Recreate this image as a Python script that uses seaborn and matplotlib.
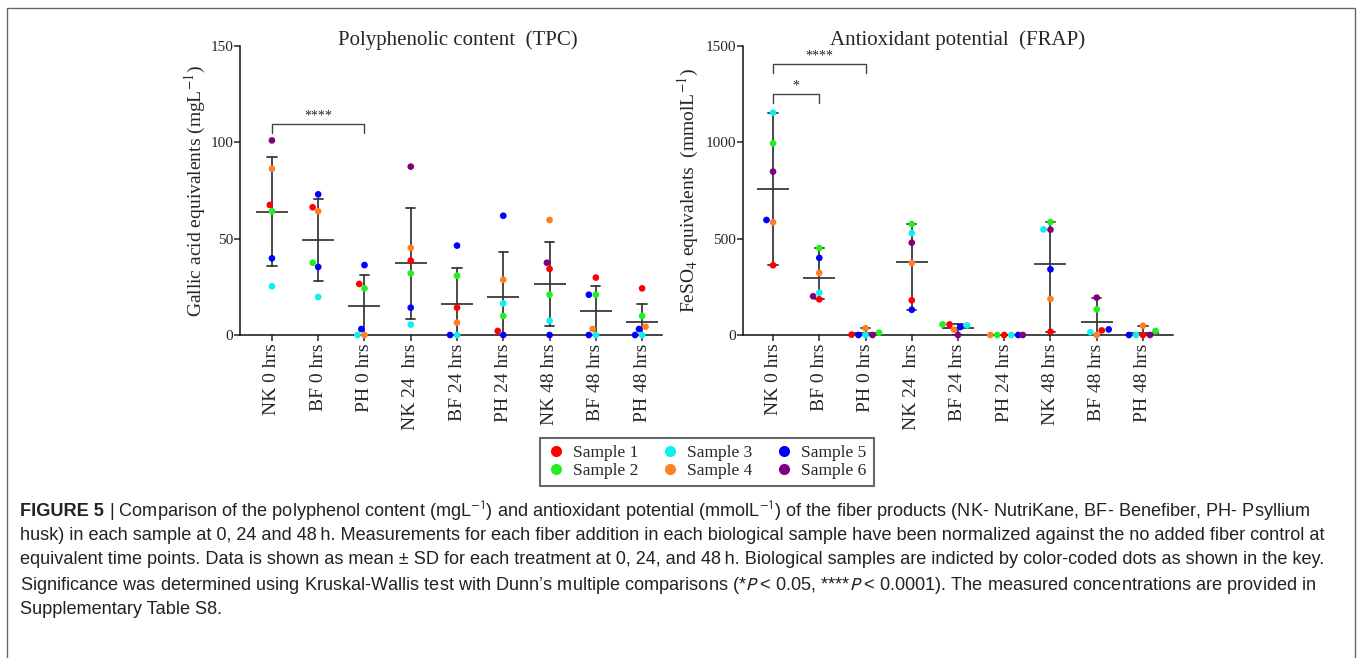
import matplotlib
matplotlib.use("Agg")
import numpy as np
import pandas as pd
import matplotlib.pyplot as plt
import seaborn as sns
from matplotlib.lines import Line2D
from matplotlib.patches import Rectangle

sns.set_style("ticks")
plt.rcParams["font.family"] = ["Liberation Serif", "DejaVu Serif"]

groups = ["NK 0 hrs", "BF 0 hrs", "PH 0 hrs", "NK 24  hrs", "BF 24 hrs",
          "PH 24 hrs", "NK 48 hrs", "BF 48 hrs", "PH 48 hrs"]
samples = ["Sample 1", "Sample 2", "Sample 3", "Sample 4", "Sample 5", "Sample 6"]
sample_colors = ["#ff0000", "#22ee22", "#11eeee", "#ff7f27", "#0000ff", "#800080"]

# polyphenolic content (mg/L), one list per sample across the nine groups
tpc_s1 = [67.5, 66.3, 26.5, 38.6, 14.2, 2.1, 34.3, 29.8, 24.2]
tpc_s2 = [64.2, 37.5, 24.2, 32.0, 30.8, 9.9, 20.9, 20.9, 9.9]
tpc_s3 = [25.3, 19.7, 0.0, 5.4, 0.0, 16.4, 7.4, 0.0, 0.0]
tpc_s4 = [86.3, 64.2, 0.0, 45.2, 6.4, 28.7, 59.7, 3.1, 4.3]
tpc_s5 = [39.8, 73.0, 36.3, 14.2, 46.4, 61.9, 0.0, 20.9, 3.1]
tpc_s6 = [101.0, 35.3, 3.1, 87.4, 0.0, 0.0, 37.5, 0.0, 0.0]

# antioxidant potential (mmol/L)
frap_s1 = [362, 185, 2, 180, 55, 0, 17, 24, 0]
frap_s2 = [995, 451, 12, 576, 55, 0, 586, 133, 21]
frap_s3 = [1154, 220, 0, 529, 50, 0, 548, 14, 0]
frap_s4 = [585, 322, 35, 374, 28, 0, 187, 0, 48]
frap_s5 = [597, 400, 0, 131, 41.5, 0, 341, 29, 0]
frap_s6 = [848, 201, 0, 479, 0, 0, 547, 194, 0]

# significance brackets: (from group, to group, height, label)
tpc_brackets = [(0, 2, 109.4, "****")]
frap_brackets = [(0, 2, 1405, "****"), (0, 1, 1251, "*")]

caption_head = "FIGURE 5"
caption_lines = [
    " | Comparison of the polyphenol content (mgL$^{-1}$) and antioxidant potential (mmolL$^{-1}$) of the fiber products (NK- NutriKane, BF- Benefiber, PH- Psyllium",
    "husk) in each sample at 0, 24 and 48\u2009h. Measurements for each fiber addition in each biological sample have been normalized against the no added fiber control at",
    "equivalent time points. Data is shown as mean \u00b1 SD for each treatment at 0, 24, and 48\u2009h. Biological samples are indicted by color-coded dots as shown in the key.",
    "Significance was determined using Kruskal-Wallis test with Dunn\u2019s multiple comparisons (*$\\mathit{P}$ < 0.05, ****$\\mathit{P}$ < 0.0001). The measured concentrations are provided in",
    "Supplementary Table S8.",
]


def long_table(cols):
    rows = []
    for s, vals in zip(samples, cols):
        for g, v in zip(groups, vals):
            rows.append((g, s, v))
    return pd.DataFrame(rows, columns=["group", "sample", "value"])


tpc = long_table([tpc_s1, tpc_s2, tpc_s3, tpc_s4, tpc_s5, tpc_s6])
tpc["key"] = tpc["sample"]
# in the TPC panel sample 6 of the BF / PH groups is drawn in blue
mask = (tpc["sample"] == "Sample 6") & ~tpc["group"].str.startswith("NK")
tpc.loc[mask, "key"] = "Sample 5"

frap = long_table([frap_s1, frap_s2, frap_s3, frap_s4, frap_s5, frap_s6])
frap["key"] = frap["sample"]

palette = dict(zip(samples, sample_colors))


def panel(ax, df, errorbar, ymax, yticks, title, ylabel, brackets, drop, xlim, label_x, title_x):
    sns.pointplot(data=df, x="group", y="value", order=groups, errorbar=errorbar,
                  capsize=0.2, color="#3a3a3a", marker="_", markersize=23,
                  markeredgewidth=1.3, linestyle="none",
                  err_kws={"linewidth": 1.3}, ax=ax)
    sns.swarmplot(data=df, x="group", y="value", order=groups, hue="key",
                  hue_order=samples, palette=palette, size=4.8, linewidth=0,
                  legend=False, clip_on=False, zorder=3, ax=ax, warn_thresh=1)
    for a, b, h, txt in brackets:
        ax.plot([a, a, b, b], [h - drop, h, h, h - drop], color="#444444", lw=1.0)
        ax.text((a + b) / 2, h + drop * 0.2, txt, ha="center", va="bottom", fontsize=10)
    ax.set_xlim(*xlim)
    ax.set_ylim(0, ymax)
    ax.set_yticks(yticks)
    ax.set_xticks(range(len(groups)))
    ax.set_xticklabels(groups, rotation=90, fontsize=14)
    ax.tick_params(axis="y", labelsize=11, length=4, width=1.1, pad=1)
    ax.tick_params(axis="x", length=4, width=1.1, pad=2)
    ax.set_xlabel("")
    ax.set_ylabel(ylabel, fontsize=14, math_fontfamily="stix")
    ax.yaxis.set_label_coords(label_x, 0.5)
    ax.set_title(title, fontsize=15, pad=0, x=title_x, y=1.002)
    for sp in ("left", "bottom"):
        ax.spines[sp].set_linewidth(1.1)
        ax.spines[sp].set_color("#111111")
    sns.despine(ax=ax)


fig = plt.figure(figsize=(13.57, 6.58), dpi=100)
W, H = 1357, 658
ax1 = fig.add_axes([240 / W, 1 - 335 / H, 422 / W, 289 / H])
ax2 = fig.add_axes([743 / W, 1 - 335 / H, 430 / W, 289 / H])

panel(ax1, tpc, "sd", 150, [0, 50, 100, 150], "Polyphenolic content  (TPC)",
      r"Gallic acid equivalents (mgL$^{-1}$)", tpc_brackets, 4.7,
      (-0.69, 8.43), -0.076, 0.515)
panel(ax2, frap, lambda v: (v.min(), v.max()), 1500, [0, 500, 1000, 1500],
      "Antioxidant potential  (FRAP)",
      r"FeSO$_4$ equivalents  (mmolL$^{-1}$)", frap_brackets, 47,
      (-0.65, 8.65), -0.097, 0.5)

handles = [Line2D([], [], marker="o", linestyle="none", markersize=8,
                  markerfacecolor=c, markeredgewidth=0, label=s)
           for s, c in zip(samples, sample_colors)]
leg = fig.legend(handles=handles, ncol=3, loc="center", bbox_to_anchor=(707 / W, 1 - 462 / H),
                 frameon=True, fancybox=False, edgecolor="#444444",
                 prop={"family": "Liberation Serif", "size": 12.5}, handlelength=1.0,
                 handletextpad=0.5, columnspacing=1.3, borderpad=0.4, labelspacing=0.12)
leg.get_frame().set_linewidth(1.5)

# caption
cap_font = ["Liberation Sans", "DejaVu Sans"]
cap_size = 13.1
line_y = [511, 536, 560, 585, 610]
head = fig.text(20 / W, 1 - line_y[0] / H, caption_head, fontsize=cap_size, fontweight="bold",
                family=cap_font, va="center", color="#222222")
fig.canvas.draw()
bb = head.get_window_extent(fig.canvas.get_renderer())
for i, line in enumerate(caption_lines):
    x0 = bb.x1 / W if i == 0 else 20 / W
    fig.text(x0, 1 - line_y[i] / H, line, fontsize=cap_size, family=cap_font,
             va="center", color="#222222", math_fontfamily="stixsans")

fig.patches.append(Rectangle((7 / W, -0.01), (1355 - 7) / W, 1 - 8 / H + 0.01,
                             transform=fig.transFigure, fill=False,
                             edgecolor="#666666", linewidth=1.0))

fig.savefig("out.png", dpi=100)
